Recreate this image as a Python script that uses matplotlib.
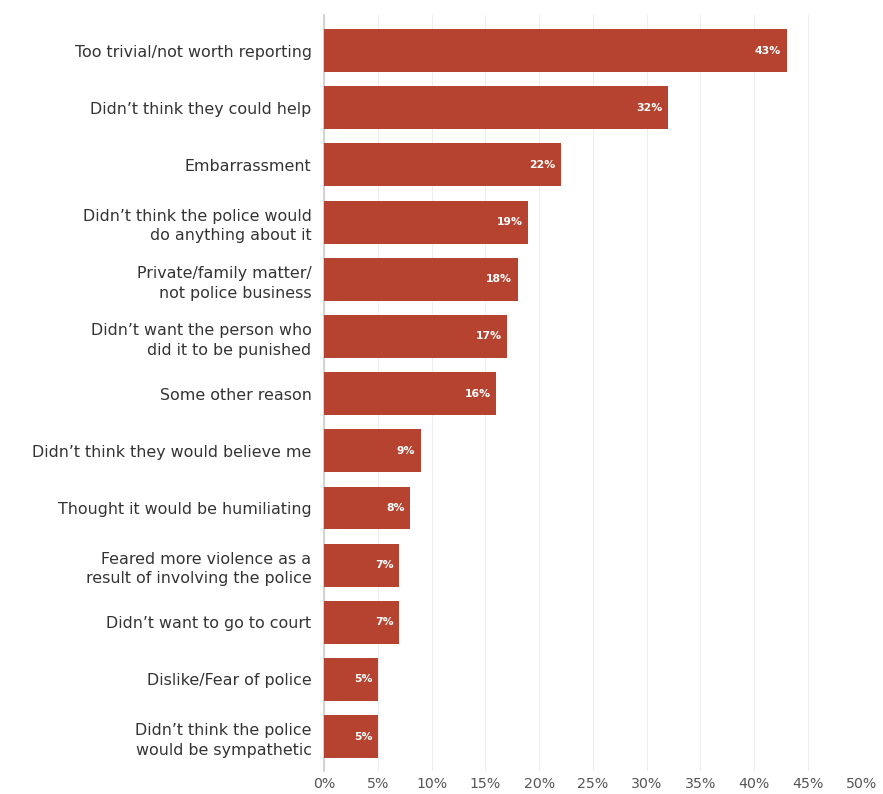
import matplotlib
matplotlib.use("Agg")
import matplotlib.pyplot as plt

categories = [
    "Too trivial/not worth reporting",
    "Didn’t think they could help",
    "Embarrassment",
    "Didn’t think the police would\ndo anything about it",
    "Private/family matter/\nnot police business",
    "Didn’t want the person who\ndid it to be punished",
    "Some other reason",
    "Didn’t think they would believe me",
    "Thought it would be humiliating",
    "Feared more violence as a\nresult of involving the police",
    "Didn’t want to go to court",
    "Dislike/Fear of police",
    "Didn’t think the police\nwould be sympathetic",
]
values = [43, 32, 22, 19, 18, 17, 16, 9, 8, 7, 7, 5, 5]
ticks = [0, 5, 10, 15, 20, 25, 30, 35, 40, 45, 50]

plt.rcParams['font.family'] = ['DejaVu Sans']

fig = plt.figure(figsize=(8.83, 7.94), dpi=100)
ax = fig.add_axes([0.367, 0.029, 0.609, 0.952])

bar_color = "#B5432F"
ypos = list(range(len(categories)))
ax.barh(ypos, values, height=0.75, color=bar_color, zorder=3)

for y, v in zip(ypos, values):
    ax.text(v - 0.5, y, f"{v}%", ha="right", va="center", color="white",
            fontsize=7.8, fontweight="bold", zorder=4)

ax.set_yticks(ypos)
ax.set_yticklabels(categories, fontsize=11.4, color="#333333", linespacing=1.4)
ax.set_ylim(len(categories) - 1 + 0.6, -0.62)
ax.set_xlim(0, 50)
ax.set_xticks(ticks)
ax.set_xticklabels([f"{t}%" for t in ticks], fontsize=10.2, color="#555555")

ax.grid(axis="x", color="#eeeeee", linewidth=0.8, zorder=0)
for s in ["top", "right", "bottom"]:
    ax.spines[s].set_visible(False)
ax.spines["left"].set_color("#cccccc")
ax.spines["left"].set_linewidth(1.2)
ax.tick_params(axis="y", length=0, pad=9)
ax.tick_params(axis="x", length=0, pad=4)

fig.savefig("out.png", dpi=100, facecolor="white")
